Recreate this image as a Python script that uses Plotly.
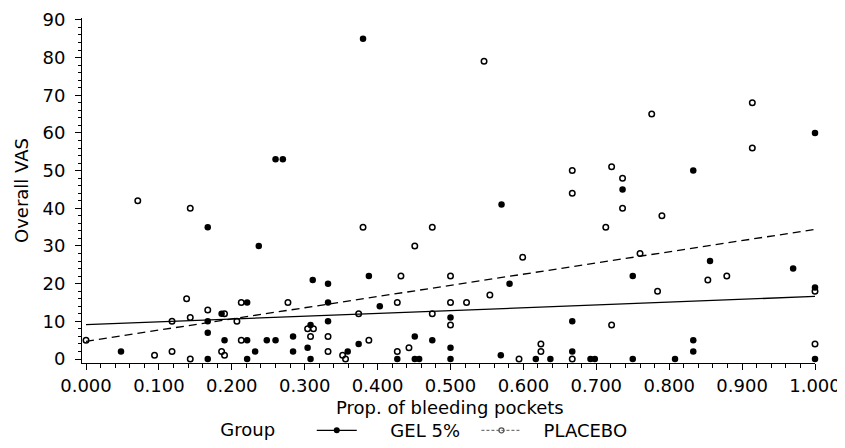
import plotly.graph_objects as go

# ---- data ----
gel_x = [0.048, 0.167, 0.167, 0.167, 0.167, 0.186, 0.190, 0.221, 0.221, 0.221,
         0.232, 0.237, 0.248, 0.260, 0.260, 0.270, 0.284, 0.284, 0.311, 0.332,
         0.332, 0.332, 0.308, 0.304, 0.308, 0.359, 0.374, 0.380, 0.388, 0.403,
         0.427, 0.451, 0.451, 0.457, 0.475, 0.500, 0.500, 0.500, 0.569, 0.570,
         0.581, 0.617, 0.637, 0.667, 0.667, 0.692, 0.698, 0.736, 0.750, 0.750,
         0.808, 0.833, 0.833, 0.833, 0.856, 0.970, 1.000, 1.000, 1.000]
gel_y = [2, 35, 10, 7, 0, 12, 5, 15, 5, 0,
         2, 30, 5, 5, 53, 53, 6, 2, 21, 20,
         15, 10, 9, 3, 0, 2, 4, 85, 22, 14,
         0, 6, 0, 0, 5, 11, 3, 0, 1, 41,
         20, 0, 0, 10, 2, 0, 0, 45, 22, 0,
         0, 50, 5, 2, 26, 24, 60, 19, 0]

pla_x = [0.000, 0.071, 0.094, 0.118, 0.118, 0.138, 0.143, 0.143, 0.143, 0.167,
         0.190, 0.186, 0.190, 0.207, 0.213, 0.213, 0.277, 0.304, 0.312, 0.308,
         0.332, 0.332, 0.352, 0.356, 0.374, 0.380, 0.388, 0.427, 0.427, 0.432,
         0.443, 0.451, 0.475, 0.475, 0.500, 0.500, 0.500, 0.522, 0.546, 0.554,
         0.594, 0.599, 0.624, 0.624, 0.667, 0.667, 0.667, 0.713, 0.721, 0.721,
         0.736, 0.736, 0.760, 0.776, 0.784, 0.790, 0.853, 0.879, 0.914, 0.914,
         1.000, 1.000]
pla_y = [5, 42, 1, 10, 2, 16, 40, 11, 0, 13,
         12, 2, 1, 10, 15, 5, 15, 8, 8, 6,
         6, 2, 1, 0, 12, 35, 5, 15, 2, 22,
         3, 30, 35, 12, 22, 15, 9, 15, 79, 17,
         0, 27, 4, 2, 50, 44, 0, 35, 51, 9,
         48, 40, 28, 65, 18, 38, 21, 22, 68, 56,
         18, 4]

fit_x = [0.0, 1.0]
gel_fit = [9.1, 16.6]
pla_fit = [4.7, 34.4]

x_ticks = [0.0, 0.1, 0.2, 0.3, 0.4, 0.5, 0.6, 0.7, 0.8, 0.9, 1.0]
x_labels = ["0.000", "0.100", "0.200", "0.300", "0.400", "0.500",
            "0.600", "0.700", "0.800", "0.900", "1.000"]
y_ticks = [0, 10, 20, 30, 40, 50, 60, 70, 80, 90]

FONT = "DejaVu Sans"
NB = "\u00a0"

fig = go.Figure()

fig.add_trace(go.Scatter(x=fit_x, y=gel_fit, mode="lines",
                         line=dict(color="black", width=1.3),
                         showlegend=False, hoverinfo="skip"))
fig.add_trace(go.Scatter(x=fit_x, y=pla_fit, mode="lines",
                         line=dict(color="black", width=1.3, dash="8px,5px"),
                         showlegend=False, hoverinfo="skip"))

fig.add_trace(go.Scatter(x=gel_x, y=gel_y, mode="markers", cliponaxis=False,
                         marker=dict(symbol="circle", size=6.5, color="black"),
                         showlegend=False))
fig.add_trace(go.Scatter(x=pla_x, y=pla_y, mode="markers", cliponaxis=False,
                         marker=dict(symbol="circle-open", size=5.5, color="black",
                                     line=dict(width=1.5, color="black")),
                         showlegend=False))

# legend entries
fig.add_trace(go.Scatter(x=[None], y=[None], mode="lines+markers",
                         name=NB * 5 + "GEL 5%" + NB * 2,
                         line=dict(color="black", width=1.3),
                         marker=dict(symbol="circle", size=6, color="black")))
fig.add_trace(go.Scatter(x=[None], y=[None], mode="lines+markers",
                         name=NB * 3 + "PLACEBO",
                         line=dict(color="#555555", width=1, dash="3px,2px"),
                         marker=dict(symbol="circle-open", size=5, color="#555555",
                                     line=dict(width=1.3, color="#555555"))))

# page body has an 8px default margin, so the figure is sized to fit the window
fig.update_layout(
    width=837, height=440,
    margin=dict(l=74, r=30, t=10, b=85, autoexpand=False),
    paper_bgcolor="white", plot_bgcolor="white",
    font=dict(family=FONT, size=18, color="black"),
    showlegend=True,
    legend=dict(orientation="h", x=0.186, xanchor="left",
                y=-0.196, yanchor="middle",
                title=dict(text="Group" + NB * 5, side="left", font=dict(size=18)),
                font=dict(size=18), bgcolor="rgba(0,0,0,0)",
                itemwidth=40),
    annotations=[dict(text="Prop. of bleeding pockets", xref="paper", yref="paper",
                      x=0.502, y=-0.1295, xanchor="center", yanchor="middle",
                      showarrow=False, font=dict(family=FONT, size=18))],
)

fig.update_xaxes(
    range=[-0.0055, 1.0], showgrid=False, zeroline=False, automargin=False,
    showline=True, linecolor="black", linewidth=1,
    tickmode="array", tickvals=x_ticks, ticktext=x_labels,
    ticks="outside", ticklen=6, tickwidth=1, tickcolor="black",
    minor=dict(dtick=0.02, ticks="outside", ticklen=3.5, tickwidth=1, tickcolor="black"),
    tickfont=dict(family=FONT, size=18),
)
fig.update_yaxes(
    range=[-1.06, 90.5], showgrid=False, zeroline=False, automargin=False,
    showline=True, linecolor="black", linewidth=1,
    tickmode="array", tickvals=y_ticks,
    ticks="outside", ticklen=6, tickwidth=1, tickcolor="black",
    ticklabelstandoff=6,
    minor=dict(dtick=2, ticks="outside", ticklen=3.5, tickwidth=1, tickcolor="black"),
    tickfont=dict(family=FONT, size=18),
    title=dict(text="Overall VAS", font=dict(family=FONT, size=18), standoff=9),
)

fig.write_html("out.html")
